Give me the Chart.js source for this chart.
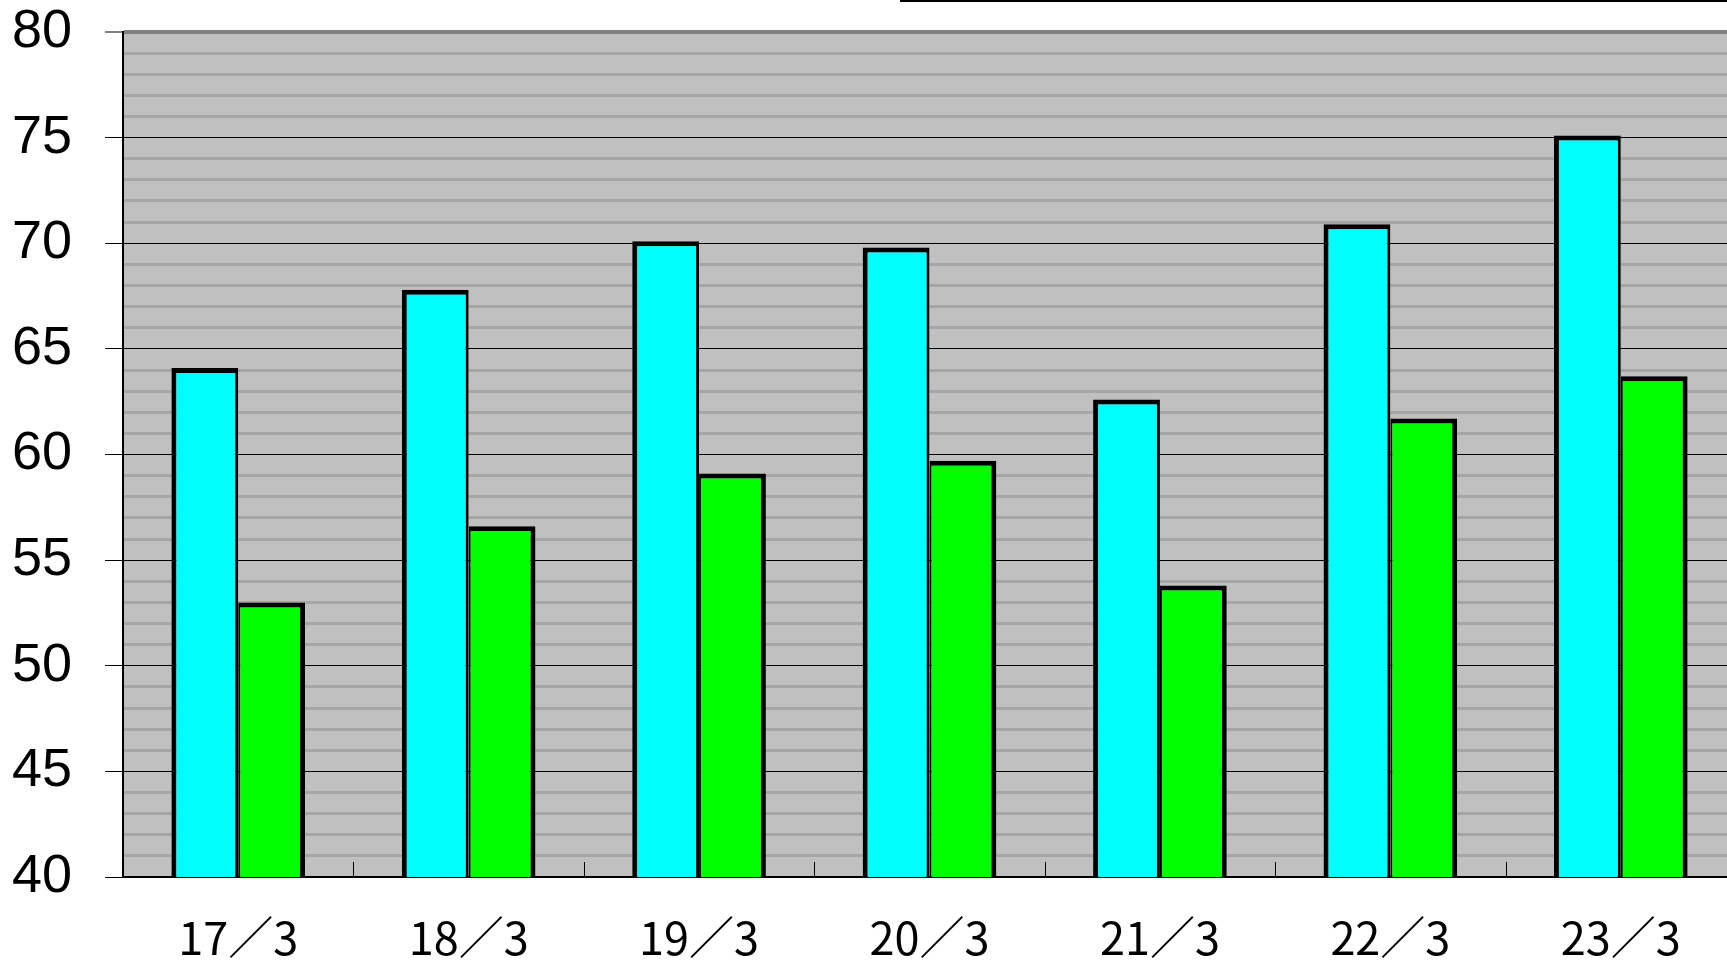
<!DOCTYPE html>
<html lang="ja">
<head>
  <meta charset="UTF-8">
  <title>Bar chart</title>
  <script src="https://cdn.jsdelivr.net/npm/chart.js"></script>
  <style>
    html, body {
      margin: 0;
      padding: 0;
      background: #fff;
      overflow: hidden;
      width: 1727px;
      height: 963px;
    }
    #wrap {
      position: relative;
      width: 1727px;
      height: 963px;
    }
    #chart {
      position: absolute;
      left: 0;
      top: 0;
    }
    /* edge of the box above the plot, cut off by the picture */
    #boxEdge {
      position: absolute;
      left: 900px;
      top: 0;
      width: 827px;
      border-top: 2px solid #000;
    }
  </style>
</head>
<body>
  <div id="wrap">
    <canvas id="chart" width="1745" height="963"></canvas>
    <div id="boxEdge"></div>
  </div>

  <script>
    // data
    const categories = ['17／3', '18／3', '19／3', '20／3', '21／3', '22／3', '23／3'];
    const cyanValues = [64.1, 67.8, 70.1, 69.8, 62.6, 70.9, 75.1];
    const greenValues = [53.0, 56.6, 59.1, 59.7, 53.8, 61.7, 63.7];
    const yMin = 40;
    const yMax = 80;
    const yLabelStep = 5;

    // grey plot background
    const plotBackground = {
      id: 'plotBackground',
      beforeDraw(chart) {
        const { ctx, chartArea } = chart;
        ctx.save();
        ctx.fillStyle = '#c0c0c0';
        ctx.fillRect(chartArea.left, chartArea.top, chartArea.right - chartArea.left, chartArea.bottom - chartArea.top);
        ctx.restore();
      }
    };

    // small tick marks pointing up into the plot, between categories
    const innerTicks = {
      id: 'innerTicks',
      afterDatasetsDraw(chart) {
        const { ctx, chartArea } = chart;
        const x = chart.scales.x;
        ctx.save();
        ctx.strokeStyle = '#000';
        ctx.lineWidth = 1;
        for (let i = 1; i < categories.length; i++) {
          const px = Math.round((x.getPixelForValue(i - 1) + x.getPixelForValue(i)) / 2) + 0.5;
          ctx.beginPath();
          ctx.moveTo(px, chartArea.bottom);
          ctx.lineTo(px, chartArea.bottom - 15);
          ctx.stroke();
        }
        ctx.restore();
      }
    };

    const ctx = document.getElementById('chart').getContext('2d');
    new Chart(ctx, {
      type: 'bar',
      data: {
        labels: categories,
        datasets: [
          {
            data: cyanValues,
            backgroundColor: '#00ffff',
            borderColor: '#000',
            borderWidth: { top: 5, left: 5, right: 3, bottom: 5 },
            borderSkipped: false
          },
          {
            data: greenValues,
            backgroundColor: '#00ff00',
            borderColor: '#000',
            borderWidth: { top: 5, left: 2, right: 5, bottom: 5 },
            borderSkipped: false
          }
        ]
      },
      plugins: [plotBackground, innerTicks],
      options: {
        responsive: false,
        animation: false,
        layout: {
          padding: { top: 32, right: 9, left: 0, bottom: 0 }
        },
        plugins: {
          legend: { display: false },
          tooltip: { enabled: false }
        },
        datasets: {
          bar: {
            categoryPercentage: 0.58,
            barPercentage: 1.0
          }
        },
        scales: {
          x: {
            grid: { display: false, drawTicks: false },
            border: { display: true, color: '#000', width: 2 },
            ticks: {
              color: '#000',
              padding: 34,
              maxRotation: 0,
              font: { family: '"Noto Sans CJK JP", "Noto Sans", sans-serif', size: 45, lineHeight: 1.2 }
            },
            afterFit(scale) {
              scale.height = 86;
              scale.paddingLeft = 0;
              scale.paddingRight = 0;
            }
          },
          y: {
            min: yMin,
            max: yMax,
            grid: {
              color: (c) => {
                const v = c.tick.value;
                if (v === yMax) return '#808080';
                return v % yLabelStep === 0 ? '#000' : '#a6a6a6';
              },
              lineWidth: (c) => {
                const v = c.tick.value;
                if (v === yMax) return 4;
                return v % yLabelStep === 0 ? 1 : 3;
              },
              tickColor: (c) => (c.tick.value % yLabelStep === 0 ? '#000' : 'rgba(0,0,0,0)'),
              tickWidth: 1,
              tickLength: 18
            },
            border: { color: '#000', width: 2 },
            ticks: {
              stepSize: 1,
              autoSkip: false,
              color: '#000',
              padding: 33,
              font: { family: '"Liberation Sans", Arial, sans-serif', size: 54, lineHeight: 1 },
              callback: (v) => (v % yLabelStep === 0 ? v : '')
            },
            afterFit(scale) {
              scale.width = 123;
              scale.paddingTop = 0;
              scale.paddingBottom = 0;
            }
          }
        }
      }
    });
  </script>
</body>
</html>
